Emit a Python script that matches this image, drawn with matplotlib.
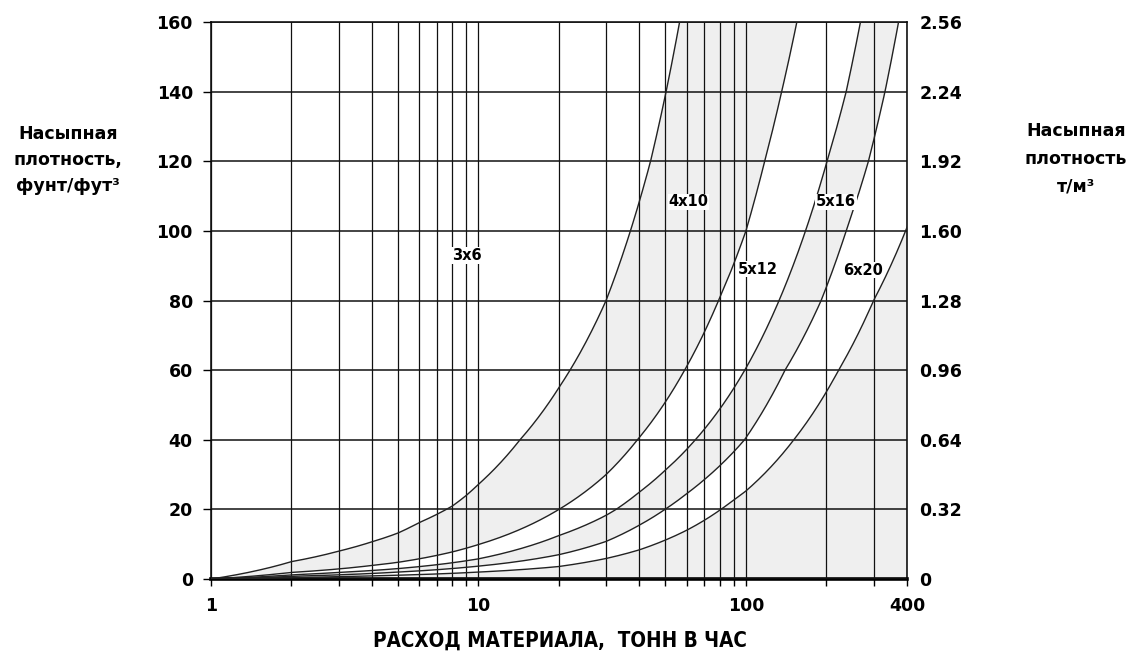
import matplotlib
matplotlib.use("Agg")
import matplotlib.pyplot as plt
from matplotlib.path import Path
import numpy as np

# ---- data (x = t/h, y = lb/ft3) ----
c36_x = [1, 2, 3, 4, 5, 6, 7, 8, 9, 10, 14.3, 20, 30, 37, 44, 50.3, 56.5]
c36_y = [0, 5.0, 8.0, 10.7, 13.2, 16.2, 18.6, 21, 24, 27.2, 40, 55, 80, 100, 120, 140, 160]

c410_x = [1, 2, 3, 4, 5, 6, 8, 10, 20, 30, 39.3, 59, 79, 100, 117.5, 136, 155]
c410_y = [0, 1.9, 2.9, 3.9, 4.8, 5.8, 7.8, 9.9, 20, 30, 40, 60, 80, 100, 120, 140, 160]

c512_x = [1, 2, 3, 5, 10, 20, 30, 32.7, 40, 50, 64.7, 99, 133, 167, 201, 237, 268]
c512_y = [0, 1.2, 1.9, 3.0, 5.8, 12.5, 18.3, 20, 25, 31.3, 40, 60, 80, 100, 120, 140, 160]

c516_x = [1, 2, 3, 5, 10, 20, 30, 40, 49.8, 60, 70, 80, 98.8, 140, 191, 237, 287, 331, 372]
c516_y = [0, 0.8, 1.2, 2.0, 3.7, 7.0, 10.8, 15.5, 20, 24.5, 28.6, 32.6, 40, 60, 80, 100, 120, 140, 160]

c620_x = [1, 2, 3, 5, 10, 20, 30, 40, 50, 60, 70, 80.6, 90, 100, 151, 222, 300, 400]
c620_y = [0, 0.4, 0.7, 1.1, 2.0, 3.6, 5.9, 8.4, 11.2, 14.0, 16.9, 20, 22.7, 25.3, 40, 60, 80, 101]

labels = ["3x6", "4x10", "5x12", "5x16", "6x20"]
label_x = [9.05, 61, 111, 217, 274]
label_y = [92.9, 108.3, 89, 108.3, 88.7]

x_major = [1, 10, 100, 400]
x_minor = [2, 3, 4, 5, 6, 7, 8, 9, 20, 30, 40, 50, 60, 70, 80, 90, 200, 300]
y_left = [0, 20, 40, 60, 80, 100, 120, 140, 160]
y_right = [0, 0.32, 0.64, 0.96, 1.28, 1.60, 1.92, 2.24, 2.56]
y_right_lbl = ["0", "0.32", "0.64", "0.96", "1.28", "1.60", "1.92", "2.24", "2.56"]


def seg_path(xs, ys, steps=40):
    """Straight data-space segments between the read points (curved on a log axis)."""
    v = Path(np.column_stack([xs, ys])).interpolated(steps).vertices
    return v[:, 0], v[:, 1]


plt.rcParams['font.family'] = ['DejaVu Sans']
plt.rcParams['font.weight'] = 'bold'

fig = plt.figure(figsize=(11.4, 6.61), dpi=100)
ax = fig.add_axes([0.185, 0.124, 0.6106, 0.8427])
ax.set_xscale('log')
ax.set_xlim(1, 400)
ax.set_ylim(0, 160)

curves = [(c36_x, c36_y), (c410_x, c410_y), (c512_x, c512_y),
          (c516_x, c516_y), (c620_x, c620_y)]
dense = [seg_path(xs, ys) for xs, ys in curves]

gray = '#efefef'
(x1, y1), (x2, y2), (x3, y3), (x4, y4), (x5, y5) = dense
ax.fill(np.r_[x1, x2[::-1]], np.r_[y1, y2[::-1]], color=gray, lw=0, zorder=0.5)
ax.fill(np.r_[x3, x4[::-1]], np.r_[y3, y4[::-1]], color=gray, lw=0, zorder=0.5)
ax.fill_between(x5, y5, 0, color=gray, lw=0, zorder=0.5)

for xs, ys in dense:
    ax.plot(xs, ys, color='#222222', lw=1.0, zorder=3)

for t, lx, ly in zip(labels, label_x, label_y):
    ax.text(lx, ly, t, fontsize=10.5, fontweight='bold', ha='center', va='center',
            zorder=4, bbox=dict(facecolor='white', edgecolor='none', pad=0.5))

ax.set_xticks(x_major)
ax.set_xticklabels([str(v) for v in x_major])
ax.set_xticks(x_minor, minor=True)
ax.set_xticklabels([], minor=True)
ax.set_yticks(y_left)
ax.set_yticklabels([str(v) for v in y_left])

ax.grid(True, which='both', axis='x', color='#111111', lw=0.9, zorder=1)
ax.grid(True, which='major', axis='y', color='#111111', lw=1.1, zorder=1)
ax.set_axisbelow(False)
for gl in ax.get_xgridlines() + ax.get_ygridlines():
    gl.set_zorder(1)

ax.tick_params(axis='y', which='major', direction='out', length=6, width=1,
               labelsize=12.5, pad=7)
ax.tick_params(axis='x', which='both', direction='out', length=5, width=1,
               labelsize=12.5, pad=8)
for lab in ax.get_xticklabels() + ax.get_yticklabels():
    lab.set_fontweight('bold')

for s in ['left', 'right', 'top']:
    ax.spines[s].set_linewidth(1.1)
ax.spines['bottom'].set_linewidth(2.6)

ax2 = ax.twinx()
ax2.set_ylim(0, 2.56)
ax2.set_yticks(y_right)
ax2.set_yticklabels(y_right_lbl)
ax2.tick_params(axis='y', length=0, labelsize=12.5, pad=9)
for lab in ax2.get_yticklabels():
    lab.set_fontweight('bold')
for s in ax2.spines.values():
    s.set_visible(False)

fig.text(68 / 1140, 1 - 160 / 661, "Насыпная\nплотность,\nфунт/фут³", ha='center', va='center',
         fontsize=12.5, fontweight='bold', linespacing=1.6)
fig.text(1076 / 1140, 1 - 159 / 661, "Насыпная\nплотность\nт/м³", ha='center', va='center',
         fontsize=12.5, fontweight='bold', linespacing=1.7)
fig.text(560 / 1140, 1 - 641 / 661, "РАСХОД МАТЕРИАЛА,  ТОНН В ЧАС", ha='center', va='center',
         fontsize=14.8, fontweight='bold', fontstretch='condensed',
         family=['Liberation Sans Narrow', 'DejaVu Sans'])

fig.savefig("out.png", dpi=100)
